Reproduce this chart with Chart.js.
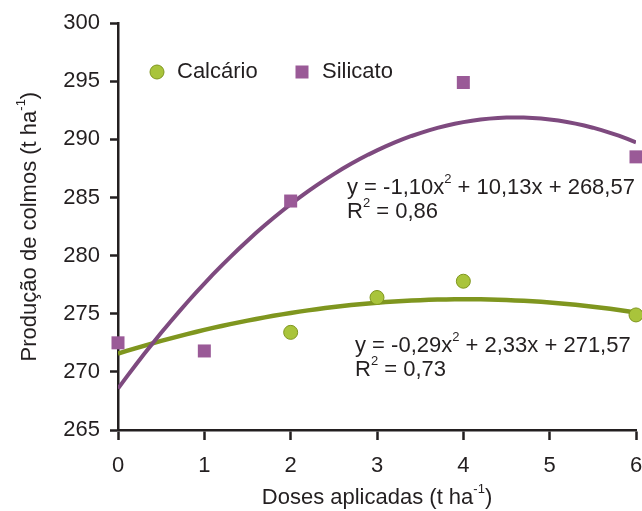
<!DOCTYPE html>
<html>
<head>
<meta charset="utf-8">
<script src="https://cdn.jsdelivr.net/npm/chart.js@4"></script>
<style>
  html, body { margin: 0; padding: 0; background: #fff; }
  #wrap { width: 642px; height: 511px; position: relative; }
</style>
</head>
<body>
<div id="wrap"><canvas id="chart"></canvas></div>
<script>
// values
const xCalcario = [2, 3, 4, 6];
const yCalcario = [273.4, 276.4, 277.8, 274.9];
const xSilicato = [0, 1, 2, 4, 6];
const ySilicato = [272.5, 271.8, 284.7, 294.9, 288.5];

// quadratic fits as printed on the chart: a*x^2 + b*x + c
const coefCalcario = [-0.29, 2.33, 271.57];
const coefSilicato = [-1.10, 10.13, 268.57];

const seriesNames = ['Calcário', 'Silicato'];
const xRange = [0, 6];
const yRange = [265, 300];

const eqSilicato = [['y = -1,10x'], ['2', true], [' + 10,13x + 268,57']];
const r2Silicato = [['R'], ['2', true], [' = 0,86']];
const eqCalcario = [['y = -0,29x'], ['2', true], [' + 2,33x + 271,57']];
const r2Calcario = [['R'], ['2', true], [' = 0,73']];
const yTitle = [['Produção de colmos (t ha'], ['-1', true], [')']];
const xTitle = [['Doses aplicadas (t ha'], ['-1', true], [')']];

const ink = '#231f20';
const green = '#7f961f';
const greenFill = '#a9c43b';
const purple = '#7e4a7f';
const purpleFill = '#9a5a97';
const FONT = '"Liberation Sans", Arial, sans-serif';

function toPoints(xs, ys) {
    return xs.map((x, i) => ({ x: x, y: ys[i] }));
}

// sample the printed regression equation across the x range
function fitCurve(coef) {
    const pts = [];
    for (let i = 0; i <= 60; i++) {
        const x = xRange[0] + (xRange[1] - xRange[0]) * i / 60;
        pts.push({ x: x, y: coef[0] * x * x + coef[1] * x + coef[2] });
    }
    return pts;
}

// text with superscripts, parts = [[text, isSup], ...]
function richWidth(ctx, parts, size) {
    let w = 0;
    parts.forEach(p => {
        ctx.font = (p[1] ? Math.round(size * 0.6) : size) + 'px ' + FONT;
        w += ctx.measureText(p[0]).width;
    });
    return w;
}
function drawRich(ctx, parts, x, y, size) {
    ctx.textAlign = 'left';
    ctx.textBaseline = 'middle';
    parts.forEach(p => {
        const sup = p[1];
        ctx.font = (sup ? Math.round(size * 0.6) : size) + 'px ' + FONT;
        ctx.fillText(p[0], x, sup ? y - size * 0.38 : y);
        x += ctx.measureText(p[0]).width;
    });
}

const decorations = {
    id: 'decorations',
    afterDraw(chart) {
        const ctx = chart.ctx;
        const area = chart.chartArea;
        const size = 22;
        ctx.save();
        ctx.fillStyle = ink;

        // legend
        ctx.beginPath();
        ctx.arc(157, 72, 7, 0, Math.PI * 2);
        ctx.fillStyle = greenFill;
        ctx.fill();
        ctx.lineWidth = 1;
        ctx.strokeStyle = green;
        ctx.stroke();
        ctx.fillStyle = purpleFill;
        ctx.fillRect(295.5, 65.5, 13, 13);
        ctx.fillStyle = ink;
        drawRich(ctx, [[seriesNames[0]]], 177, 72, size);
        drawRich(ctx, [[seriesNames[1]]], 322, 72, size);

        // equations
        drawRich(ctx, eqSilicato, 347, 188, size);
        drawRich(ctx, r2Silicato, 347, 212, size);
        drawRich(ctx, eqCalcario, 355, 346, size);
        drawRich(ctx, r2Calcario, 355, 370, size);

        // axis titles
        const xw = richWidth(ctx, xTitle, size);
        drawRich(ctx, xTitle, (area.left + area.right) / 2 - xw / 2, 498, size);

        const yw = richWidth(ctx, yTitle, size);
        ctx.translate(30, (area.top + area.bottom) / 2);
        ctx.rotate(-Math.PI / 2);
        drawRich(ctx, yTitle, -yw / 2, 0, size);
        ctx.restore();
    }
};

new Chart(document.getElementById('chart'), {
    type: 'scatter',
    data: {
        datasets: [
            {
                label: seriesNames[1],
                data: toPoints(xSilicato, ySilicato),
                pointStyle: 'rect',
                pointRadius: 9.2,
                pointHoverRadius: 9.2,
                backgroundColor: purpleFill,
                borderColor: purpleFill,
                borderWidth: 0,
                clip: false,
                order: 0
            },
            {
                label: seriesNames[0],
                data: toPoints(xCalcario, yCalcario),
                pointStyle: 'circle',
                pointRadius: 7,
                pointHoverRadius: 7,
                backgroundColor: greenFill,
                borderColor: green,
                borderWidth: 1,
                clip: false,
                order: 1
            },
            {
                label: seriesNames[1] + ' fit',
                type: 'line',
                data: fitCurve(coefSilicato),
                borderColor: purple,
                borderWidth: 4,
                pointRadius: 0,
                tension: 0,
                order: 2
            },
            {
                label: seriesNames[0] + ' fit',
                type: 'line',
                data: fitCurve(coefCalcario),
                borderColor: green,
                borderWidth: 4.5,
                pointRadius: 0,
                tension: 0,
                order: 3
            }
        ]
    },
    options: {
        responsive: true,
        maintainAspectRatio: false,
        animation: false,
        layout: { autoPadding: false, padding: { left: 0, right: 6, top: 22, bottom: 0 } },
        plugins: {
            legend: { display: false },
            tooltip: { enabled: false }
        },
        scales: {
            x: {
                type: 'linear',
                min: xRange[0],
                max: xRange[1],
                afterFit: (scale) => {
                    scale.height = 81;
                    scale.paddingLeft = 0;
                    scale.paddingRight = 0;
                },
                ticks: {
                    stepSize: 1,
                    color: ink,
                    padding: 13,
                    maxRotation: 0,
                    font: { family: FONT, size: 22 }
                },
                grid: {
                    drawOnChartArea: false,
                    tickLength: 10,
                    tickWidth: 2.5,
                    tickColor: ink
                },
                border: { color: ink, width: 2.5 }
            },
            y: {
                min: yRange[0],
                max: yRange[1],
                afterFit: (scale) => { scale.width = 118; },
                ticks: {
                    stepSize: 5,
                    color: ink,
                    padding: 10,
                    font: { family: FONT, size: 22 }
                },
                grid: {
                    drawOnChartArea: false,
                    tickLength: 8,
                    tickWidth: 2.5,
                    tickColor: ink
                },
                border: { color: ink, width: 2.5 }
            }
        }
    },
    plugins: [decorations]
});
</script>
</body>
</html>
